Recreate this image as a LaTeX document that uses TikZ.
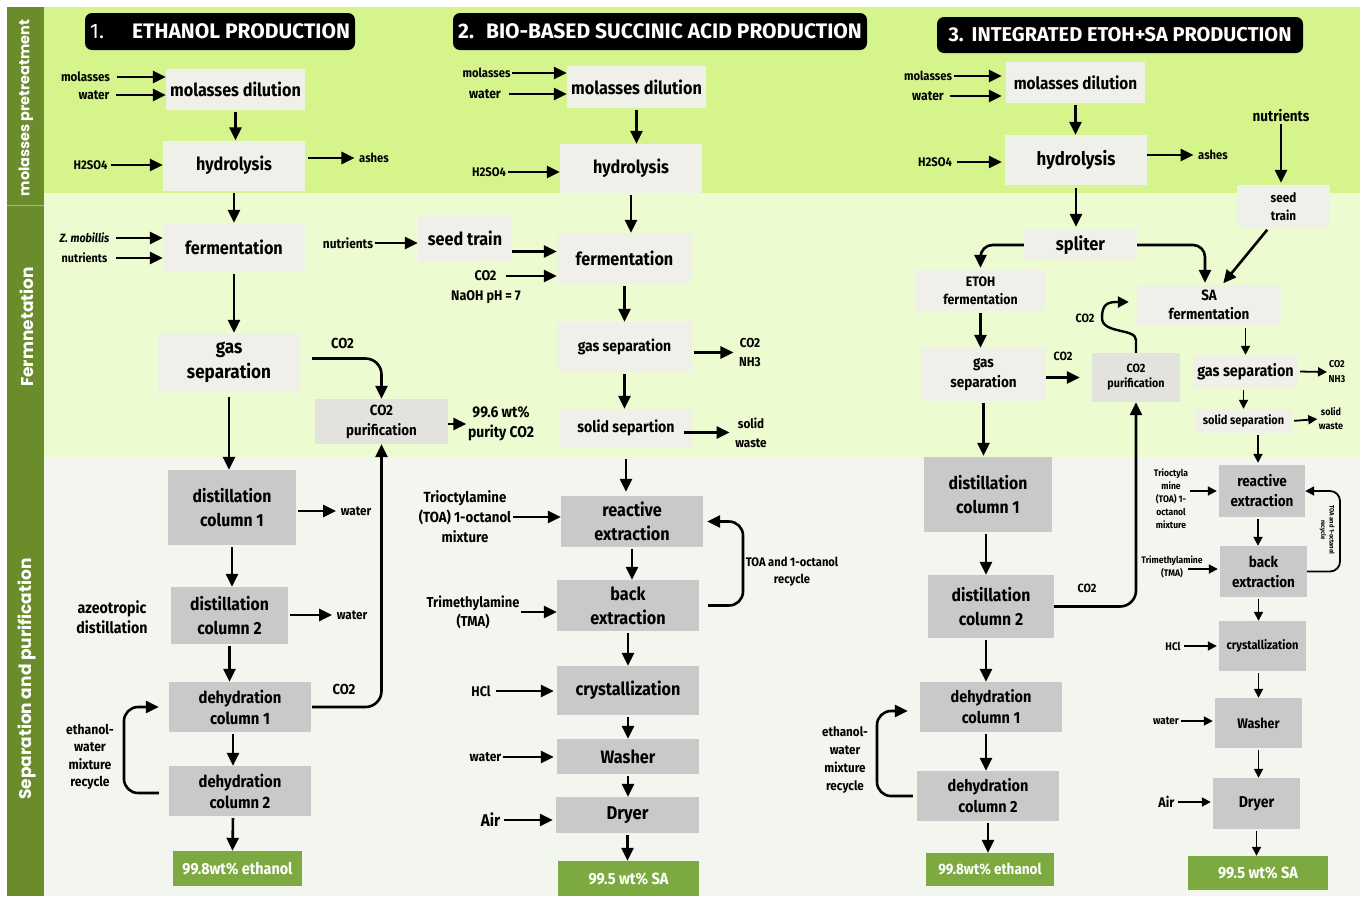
\documentclass[tikz,border=0pt]{standalone}
\usepackage{fontspec}
\setmainfont{Fira Sans}[FakeStretch=0.9]
\newfontfamily\titlefont{Fira Sans}
\newfontfamily\stripfont{Poppins}
\usetikzlibrary{arrows.meta,calc}
\definecolor{topG}{HTML}{D5F58C}
\definecolor{midG}{HTML}{EDFBD0}
\definecolor{botG}{HTML}{F3F5EF}
\definecolor{stripG}{HTML}{6A8C2B}
\definecolor{paleBox}{HTML}{EFF0E9}
\definecolor{grayBox}{HTML}{C9C9C9}
\definecolor{co2Box}{HTML}{E3E3DE}
\definecolor{prodG}{HTML}{7DAA40}
\begin{document}
\begin{tikzpicture}[x=1pt,y=-1pt,
 fs/.style 2 args={font=\bfseries\fontsize{#1}{#2}\selectfont},
 base/.style={inner sep=0pt, align=center, text=black},
 pbox/.style={base, fill=paleBox},
 gbox/.style={base, fill=grayBox},
 cbox/.style={base, fill=co2Box},
 prod/.style={base, fill=prodG, text=white},
 lab/.style={inner sep=1.5pt, align=center, text=black},
 ttl/.style={fill=black, text=white, rounded corners=7pt, inner sep=0pt,
   font=\titlefont\bfseries\fontsize{21}{24}\selectfont},
 striplab/.style={rotate=90, text=white, inner sep=0pt,
   font=\stripfont\bfseries\fontsize{14.5}{16}\selectfont},
 arr/.style={line width=2.6pt, -{Triangle[length=13pt,width=12pt]}},
 sarr/.style={line width=1.8pt, -{Triangle[length=9pt,width=9pt]}},
 vs/.style={shorten <=2pt}
]
\useasboundingbox (0,0) rectangle (1364,898);
\fill[white] (0,0) rectangle (1364,898);
% bands
\fill[topG] (44,7) rectangle (1360,193);
\fill[midG] (44,193) rectangle (1360,457);
\fill[botG] (44,457) rectangle (1360,896);
\fill[stripG] (7,7) rectangle (44,896);
\draw[stripG!60!white, line width=0.8pt] (7,205) -- (44,205);
\node[striplab] (s1) at (26,108) {molasses pretreatment};
\node[striplab,font=\stripfont\bfseries\fontsize{17}{18}\selectfont] (s2) at (27,327) {Fermnetation};
\node[striplab,font=\stripfont\bfseries\fontsize{17}{18}\selectfont] (s3) at (27,679) {Separation and purification};

% titles
\node[ttl, minimum width=270, minimum height=37] (t1) at (220,31.5) {{\mdseries 1.}\hspace{28pt}ETHANOL PRODUCTION};
\node[ttl, minimum width=414, minimum height=37] (t2) at (660,31.5) {2.\hspace{12pt}BIO-BASED SUCCINIC ACID PRODUCTION};
\node[ttl, minimum width=366, minimum height=36, font=\titlefont\bfseries\fontsize{20}{24}\selectfont] (t3) at (1120,35) {3.\hspace{8pt}INTEGRATED ETOH+SA PRODUCTION};

% ================= SECTION 1 =================
\node[pbox,fs={18}{22},minimum width=139,minimum height=41] (a_md) at (235.5,89.5) {molasses dilution};
\node[pbox,fs={18}{22},minimum width=142,minimum height=50] (a_hy) at (234,165.5) {hydrolysis};
\node[pbox,fs={18}{22},minimum width=142,minimum height=49] (a_fe) at (234,247.5) {fermentation};
\node[pbox,fs={19}{25},minimum width=142,minimum height=59] (a_gs) at (229,362.5) {gas\\separation};
\node[cbox,fs={14.8}{20},minimum width=133,minimum height=45] (a_cp) at (381.5,421.5) {CO2\\purification};
\node[gbox,fs={17.5}{24},minimum width=128,minimum height=75] (a_d1) at (232,507.5) {distillation\\column 1};
\node[gbox,fs={17.5}{24},minimum width=117,minimum height=57] (a_d2) at (229.5,615.5) {distillation\\column 2};
\node[gbox,fs={16.5}{21},minimum width=142,minimum height=50] (a_h1) at (240,707) {dehydration\\column 1};
\node[gbox,fs={16.5}{21},minimum width=142,minimum height=50] (a_h2) at (240,791) {dehydration\\column 2};
\node[prod,fs={16}{18},minimum width=129,minimum height=35] (a_pr) at (237.5,868.5) {99.8wt\% ethanol};

\node[lab,fs={12.8}{16}] (a_l1) at (85.5,77) {molasses};
\node[lab,fs={13.2}{16}] (a_l2) at (94,95) {water};
\node[lab,fs={12.5}{16}] (a_l3) at (90.5,165) {H2SO4};
\node[lab,fs={12.5}{16}] (a_ash) at (374,158) {ashes};
\node[lab,font=\bfseries\itshape\fontsize{12}{15}\selectfont] (a_l4) at (84.5,238) {Z. mobillis};
\node[lab,fs={12}{15}] (a_l5) at (84.5,258) {nutrients};
\node[lab,fs={14.5}{18}] (a_co1) at (342.5,343) {CO2};
\node[lab,fs={15.5}{20}] (a_pur) at (501,424) {99.6 wt\%\\purity CO2};
\node[lab,fs={13}{16}] (a_w1) at (356,511) {water};
\node[lab,fs={13}{16}] (a_w2) at (352,615) {water};
\node[lab,fs={15.8}{20}] (a_az) at (112,617) {azeotropic\\distillation};
\node[lab,fs={14.5}{18}] (a_co2) at (344,689) {CO2};
\node[lab,fs={13.5}{17.5}] (a_rl) at (90,757) {ethanol-\\water\\mixture\\recycle};
\coordinate (a_rc) at (124,750);

\draw[arr,shorten <=5pt] (a_l1.east) -- (a_l1.east -| a_md.west);
\draw[arr,shorten <=5pt] (a_l2.east) -- (a_l2.east -| a_md.west);
\draw[arr,shorten <=2pt] (a_l3.east) -- (a_l3.east -| a_hy.west);
\draw[arr,shorten <=3pt,shorten >=3pt] (a_hy.east |- a_ash.west) -- (a_ash.west);
\draw[arr,shorten <=5pt] (a_l4.east) -- (a_l4.east -| a_fe.west);
\draw[arr,shorten <=7pt] (a_l5.east) -- (a_l5.east -| a_fe.west);
\draw[arr,vs] (a_md.south) -- (a_md.south |- a_hy.north);
\draw[arr,vs] (a_hy.south) -- (a_hy.south |- a_fe.north);
\draw[arr,vs] (a_fe.south) -- (a_fe.south |- a_gs.north);
\draw[arr, rounded corners=16pt] ([xshift=12pt,yshift=4pt]a_gs.east) -| (a_cp.north);
\draw[arr] (a_cp.east |- a_pur.west) -- (a_pur.west);
\draw[arr,shorten <=5pt] (a_gs.south |- a_gs.south) -- (a_gs.south |- a_d1.north);
\draw[arr,shorten <=2pt,shorten >=3pt] (a_d1.east |- a_w1.west) -- (a_w1.west);
\draw[arr,shorten <=2pt,shorten >=3pt] (a_d2.east |- a_w2.west) -- (a_w2.west);
\draw[arr,vs] (a_d1.south) -- (a_d1.south |- a_d2.north);
\draw[arr,vs] (a_d2.south) -- (a_d2.south |- a_h1.north);
\draw[arr,vs] ([xshift=-7pt]a_h1.south) -- ([xshift=-7pt]a_h2.north);
\draw[arr,vs] ([xshift=-7pt]a_h2.south) -- ([xshift=-5pt]a_pr.north);
\draw[arr, rounded corners=16pt] ([xshift=1pt]a_h1.east) -| (a_cp.south);
\draw[arr, rounded corners=14pt] ([xshift=-10pt,yshift=-2pt]a_h2.west) -| (a_rc) |- ([xshift=-10pt]a_h1.west);

% ================= SECTION 2 =================
\node[pbox,fs={18}{22},minimum width=139,minimum height=42] (b_md) at (636.5,87) {molasses dilution};
\node[pbox,fs={18}{22},minimum width=142,minimum height=49] (b_hy) at (631,168.5) {hydrolysis};
\node[pbox,fs={18}{22},minimum width=94,minimum height=47] (b_st) at (465,238.5) {seed train};
\node[pbox,fs={18}{22},minimum width=135,minimum height=51] (b_fe) at (624.5,258.5) {fermentation};
\node[pbox,fs={15.5}{20},minimum width=135,minimum height=50] (b_gs) at (624.5,347) {gas separation};
\node[pbox,fs={15.7}{20},minimum width=132,minimum height=38] (b_ss) at (626,428) {solid separtion};
\node[gbox,fs={18}{24},minimum width=142,minimum height=51] (b_re) at (632,521.5) {reactive\\extraction};
\node[gbox,fs={18}{24},minimum width=142,minimum height=51] (b_be) at (628,605.5) {back\\extraction};
\node[gbox,fs={18}{22},minimum width=142,minimum height=49] (b_cr) at (628,690.5) {crystallization};
\node[gbox,fs={18}{22},minimum width=142,minimum height=35] (b_wa) at (628,756.5) {Washer};
\node[gbox,fs={18.5}{22},minimum width=143,minimum height=36] (b_dr) at (627.5,815) {Dryer};
\node[prod,fs={16.2}{18},minimum width=141,minimum height=35] (b_pr) at (628.5,878.5) {99.5 wt\% SA};

\node[lab,fs={12.5}{16}] (b_l1) at (486.5,73) {molasses};
\node[lab,fs={13.5}{16}] (b_l2) at (485,94) {water};
\node[lab,fs={12.5}{16}] (b_l3) at (489,172) {H2SO4};
\node[lab,fs={13.2}{16}] (b_l4) at (348,243) {nutrients};
\node[lab,fs={14}{16}] (b_l5) at (485.5,276) {CO2};
\node[lab,fs={14}{16}] (b_l6) at (486,297) {NaOH pH = 7};
\node[lab,fs={13}{19}] (b_o1) at (750,352.5) {CO2\\NH3};
\node[lab,fs={13}{19}] (b_o2) at (751,432.5) {solid\\waste};
\node[lab,fs={14.7}{20}] (b_l7) at (465,517) {Trioctylamine\\(TOA) 1-octanol\\mixture};
\node[lab,fs={14.4}{19}] (b_l8) at (473,612) {Trimethylamine\\(TMA)};
\node[lab,fs={12.4}{17}] (b_rl) at (792,572) {TOA and 1-octanol\\recycle};
\node[lab,fs={14}{16}] (b_l9) at (481,691) {HCl};
\node[lab,fs={13.5}{16}] (b_l10) at (485.5,757) {water};
\node[lab,fs={17}{20}] (b_l11) at (490.5,820) {Air};
\coordinate (b_c1) at ($(b_st.east)+(0,13)$);
\coordinate (b_rc) at (743,560);

\draw[arr] (b_l1.east) -- (b_l1.east -| b_md.west);
\draw[arr,shorten <=6pt] (b_l2.east) -- (b_l2.east -| b_md.west);
\draw[arr] (b_l3.east) -- (b_l3.east -| b_hy.west);
\draw[arr] (b_l4.east) -- (b_l4.east -| b_st.west);
\draw[arr] (b_c1) -- (b_c1 -| b_fe.west);
\draw[arr,shorten <=8pt] (b_l5.east) -- (b_l5.east -| b_fe.west);
\draw[arr,vs] (b_md.south) -- (b_md.south |- b_hy.north);
\draw[arr,vs] (b_hy.south) -- (b_hy.south |- b_fe.north);
\draw[arr,vs] (b_fe.south) -- (b_fe.south |- b_gs.north);
\draw[arr,vs] (b_gs.south) -- (b_gs.south |- b_ss.north);
\draw[arr,shorten <=2pt,shorten >=4pt] (b_gs.east |- b_o1.west) -- (b_o1.west);
\draw[arr,shorten <=-8pt,shorten >=4pt] (b_ss.east |- b_o2.west) -- (b_o2.west);
\draw[arr,shorten <=12pt,shorten >=4pt] (b_ss.south) -- (b_ss.south |- b_re.north);
\draw[arr] (b_l7.east) -- (b_l7.east -| b_re.west);
\draw[arr] (b_l8.east) -- (b_l8.east -| b_be.west);
\draw[arr,vs] (b_re.south) -- (b_re.south |- b_be.north);
\draw[arr, rounded corners=14pt] ([xshift=9pt]b_be.east) -| (b_rc) |- ([xshift=4pt]b_re.east);
\draw[arr,vs] (b_be.south) -- (b_be.south |- b_cr.north);
\draw[arr,vs] (b_cr.south) -- (b_cr.south |- b_wa.north);
\draw[arr,vs] (b_wa.south) -- (b_wa.south |- b_dr.north);
\draw[arr,vs] (b_dr.south) -- (b_dr.south |- b_pr.north);
\draw[arr,shorten <=4pt,shorten >=3pt] (b_l9.east) -- (b_l9.east -| b_cr.west);
\draw[arr,shorten >=3pt] (b_l10.east) -- (b_l10.east -| b_wa.west);
\draw[arr,shorten <=2pt,shorten >=3pt] (b_l11.east) -- (b_l11.east -| b_dr.west);

% ================= SECTION 3 =================
\node[pbox,fs={17}{22},minimum width=139,minimum height=41] (c_md) at (1075.5,82.5) {molasses dilution};
\node[pbox,fs={18.7}{22},minimum width=142,minimum height=50] (c_hy) at (1076,160) {hydrolysis};
\node[lab,fs={15}{16}] (c_nu) at (1281,116) {nutrients};
\node[pbox,fs={13}{18},minimum width=93,minimum height=43] (c_st) at (1283.5,206.5) {seed\\train};
\node[pbox,fs={18.3}{22},minimum width=113,minimum height=30] (c_sp) at (1080.5,245) {spliter};
\node[pbox,fs={13.7}{18},minimum width=131,minimum height=41] (c_ef) at (980.5,290.5) {ETOH\\fermentation};
\node[pbox,fs={15}{20},minimum width=125,minimum height=53] (c_gs) at (983.5,374.5) {gas\\separation};
\node[cbox,fs={12}{15},minimum width=88,minimum height=49] (c_cp) at (1136,377.5) {CO2\\purification};
\node[pbox,fs={14.9}{19},minimum width=144,minimum height=40] (c_sa) at (1209,305) {SA\\fermentation};
\node[pbox,fs={16}{20},minimum width=105,minimum height=33] (c_g2) at (1245.5,371.5) {gas separation};
\node[pbox,fs={12.2}{14},minimum width=97,minimum height=24] (c_s2) at (1243.5,421) {solid separation};
\node[gbox,fs={17.5}{24},minimum width=128,minimum height=75] (c_d1) at (988,494.5) {distillation\\column 1};
\node[gbox,fs={17.5}{24},minimum width=126,minimum height=63] (c_d2) at (991,606.5) {distillation\\column 2};
\node[gbox,fs={16.1}{21},minimum width=142,minimum height=50] (c_h1) at (991,707) {dehydration\\column 1};
\node[gbox,fs={16.1}{21},minimum width=142,minimum height=50] (c_h2) at (988,796) {dehydration\\column 2};
\node[prod,fs={15}{18},minimum width=128,minimum height=33] (c_pr) at (990,869.5) {99.8wt\% ethanol};
\node[gbox,fs={15}{20},minimum width=86,minimum height=52] (c_re) at (1262,491) {reactive\\extraction};
\node[gbox,fs={15}{20},minimum width=87,minimum height=51] (c_be) at (1263.5,571.5) {back\\extraction};
\node[gbox,fs={12.3}{14},minimum width=87,minimum height=50] (c_cr) at (1262.5,646) {crystallization};
\node[gbox,fs={13.9}{16},minimum width=87,minimum height=50] (c_wa) at (1258.5,723) {Washer};
\node[gbox,fs={15.7}{18},minimum width=87,minimum height=51] (c_dr) at (1256.5,803.5) {Dryer};
\node[prod,fs={16.2}{18},minimum width=140,minimum height=34] (c_p2) at (1258,873) {99.5 wt\% SA};

\node[lab,fs={12.5}{16}] (c_l1) at (928,76) {molasses};
\node[lab,fs={13.5}{16}] (c_l2) at (928,96) {water};
\node[lab,fs={12.5}{16}] (c_l3) at (935,162) {H2SO4};
\node[lab,fs={12.5}{16}] (c_ash) at (1213,155) {ashes};
\node[lab,fs={12}{15}] (c_co) at (1063,356) {CO2};
\node[lab,fs={12}{15}] (c_cl) at (1085,318) {CO2};
\node[lab,fs={12}{15}] (c_c2) at (1087,588) {CO2};
\node[lab,fs={13}{18}] (c_rl) at (845,760) {ethanol-\\water\\mixture\\recycle};
\node[lab,fs={9.5}{13}] (c_l4) at (1171,499) {Trioctyla\\mine\\(TOA) 1-\\octanol\\mixture};
\node[lab,fs={9.5}{13}] (c_l5) at (1172,567) {Trimethylamine\\(TMA)};
\node[lab,rotate=-90,fs={6.5}{8.5}] (c_rr) at (1327,530) {TOA and 1-octanol\\recycle};
\node[lab,fs={11}{14}] (c_l6) at (1173,646) {HCl};
\node[lab,fs={11}{14}] (c_l7) at (1166,721) {water};
\node[lab,fs={14}{16}] (c_l8) at (1166.5,802) {Air};
\node[lab,fs={10}{15}] (c_o1) at (1337,372) {CO2\\NH3};
\node[lab,fs={10}{14}] (c_o2) at (1331,419) {solid\\waste};
\coordinate (c_rc) at (877,752);
\coordinate (c_rc2) at (1340,530);
\coordinate (c_c5) at (1188,569);

\draw[arr,shorten >=4pt] (c_l1.east) -- (c_l1.east -| c_md.west);
\draw[arr,shorten <=4pt,shorten >=4pt] (c_l2.east) -- (c_l2.east -| c_md.west);
\draw[arr,shorten <=3pt,shorten >=3pt] (c_l3.east) -- (c_l3.east -| c_hy.west);
\draw[arr,shorten >=3pt] (c_hy.east |- c_ash.west) -- (c_ash.west);
\draw[arr,vs] (c_md.south) -- (c_md.south |- c_hy.north);
\draw[arr,shorten <=3pt,shorten >=3pt] (c_hy.south) -- (c_hy.south |- c_sp.north);
\draw[arr,shorten >=2pt] (c_nu.south) -- (c_nu.south |- c_st.north);
\draw[arr,shorten <=2pt,shorten >=2pt] ([xshift=-15pt]c_st.south) -- ([xshift=13pt]c_sa.north);
\draw[arr, rounded corners=12pt,shorten >=2pt] (c_sp.west) -| (c_ef.north);
\draw[arr, rounded corners=12pt,shorten >=2pt] (c_sp.east) -| ([xshift=-4pt]c_sa.north);
\draw[arr,vs] (c_ef.south) -- (c_ef.south |- c_gs.north);
\draw[arr] (c_gs.east |- c_cp.west) -- ([xshift=-12pt]c_cp.west);
\draw[arr,line width=2.4pt,-{Triangle[length=11pt,width=11pt]}] (c_cp.north) -- (1136,340) .. controls (1136,328) and (1102,334) .. (1102,318) .. controls (1102,306) and (1106,302) .. (1116,302) -- ([xshift=-8pt,yshift=3pt]c_sa.west);
\draw[arr,shorten <=2pt,shorten >=1pt] (c_gs.south) -- (c_gs.south |- c_d1.north);
\draw[arr,vs] ([xshift=-2pt]c_d1.south) -- ([xshift=-2pt]c_d1.south |- c_d2.north);
\draw[arr,vs] ([xshift=-5pt]c_d2.south) -- ([xshift=-5pt]c_d2.south |- c_h1.north);
\draw[arr,vs] ([xshift=-5pt]c_h1.south) -- ([xshift=-5pt]c_h1.south |- c_h2.north);
\draw[arr,vs] (c_h2.south) -- (c_h2.south |- c_pr.north);
\draw[arr, rounded corners=16pt] (c_d2.east) -| (c_cp.south);
\draw[arr, rounded corners=14pt] ([xshift=-4pt]c_h2.west) -| (c_rc) |- ([xshift=-12pt,yshift=-4pt]c_h1.west);
% right column
\draw[sarr,shorten <=3pt] (c_g2.north |- c_sa.south) -- (c_g2.north);
\draw[sarr,shorten <=2pt] (c_s2.north |- c_g2.south) -- (c_s2.north);
\draw[sarr,shorten <=2pt] (c_g2.east) -- (c_o1.west);
\draw[sarr,shorten <=2pt] (c_s2.east) -- (c_o2.west);
\draw[sarr,shorten <=2pt,shorten >=2pt] ([xshift=-4pt]c_re.north |- c_s2.south) -- ([xshift=-4pt]c_re.north);
\draw[sarr,shorten >=2pt] (c_l4.east |- c_re.west) -- (c_re.west);
\draw[sarr,shorten >=2pt] (c_c5) -- (c_c5 -| c_be.west);
\draw[sarr,vs] ([xshift=-4pt]c_re.south) -- ([xshift=-4pt]c_re.south |- c_be.north);
\draw[sarr, rounded corners=10pt] (c_be.east) -| (c_rc2) |- (c_re.east);
\draw[sarr,vs] ([xshift=-5pt]c_be.south) -- ([xshift=-5pt]c_be.south |- c_cr.north);
\draw[sarr,vs] ([xshift=-4pt]c_cr.south) -- ([xshift=-4pt]c_cr.south |- c_wa.north);
\draw[sarr,vs] (c_wa.south) -- (c_wa.south |- c_dr.north);
\draw[sarr,vs] (c_dr.south) -- (c_dr.south |- c_p2.north);
\draw[sarr,shorten <=2pt,shorten >=2pt] (c_l6.east) -- (c_l6.east -| c_cr.west);
\draw[sarr,shorten >=2pt] (c_l7.east) -- (c_l7.east -| c_wa.west);
\draw[sarr,shorten <=2pt,shorten >=2pt] (c_l8.east) -- (c_l8.east -| c_dr.west);
\end{tikzpicture}
\end{document}
